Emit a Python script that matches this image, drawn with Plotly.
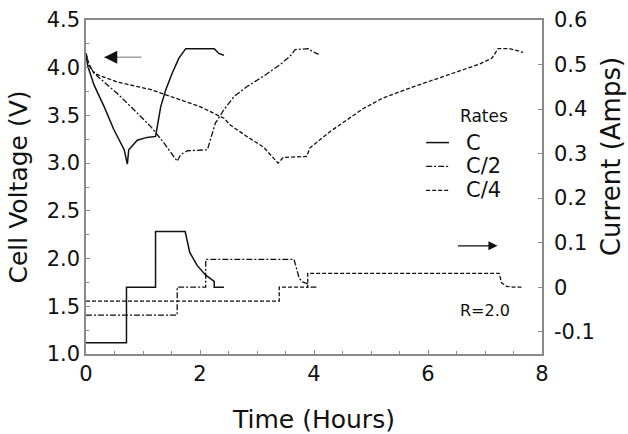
import plotly.graph_objects as go

# Cell voltage (V) during discharge / rest / charge at three rates
t_v_c = [0, 0.03, 0.08, 0.14, 0.32, 0.49, 0.67, 0.725, 0.75, 0.9, 1.07, 1.22,
         1.25, 1.31, 1.40, 1.51, 1.63, 1.75, 2.25, 2.33, 2.42]
v_c = [4.15, 4.02, 3.93, 3.82, 3.59, 3.35, 3.14, 2.99, 3.14, 3.24, 3.27, 3.28,
       3.38, 3.59, 3.77, 3.94, 4.10, 4.20, 4.20, 4.15, 4.13]

t_v_c2 = [0, 0.05, 0.2, 0.55, 0.84, 1.14, 1.37, 1.51, 1.60, 1.66, 1.78, 2.13,
          2.19, 2.27, 2.42, 2.60, 2.82, 3.11, 3.40, 3.58, 3.67, 3.90, 3.97, 4.08]
v_c2 = [4.15, 4.02, 3.91, 3.73, 3.56, 3.38, 3.21, 3.09, 3.02, 3.09, 3.13, 3.14,
        3.26, 3.42, 3.56, 3.70, 3.80, 3.91, 4.03, 4.12, 4.19, 4.20, 4.17, 4.14]

t_v_c4 = [0, 0.05, 0.14, 0.55, 1.14, 1.43, 2.01, 2.42, 2.53, 2.82, 3.11, 3.37,
          3.46, 3.87, 3.93, 4.28, 4.57, 4.86, 5.20, 5.74, 6.33, 6.91, 7.12, 7.23,
          7.42, 7.50, 7.67]
v_c4 = [4.15, 4.04, 3.94, 3.85, 3.77, 3.71, 3.59, 3.47, 3.40, 3.28, 3.17, 3.00,
        3.06, 3.07, 3.16, 3.33, 3.45, 3.57, 3.68, 3.80, 3.92, 4.04, 4.10, 4.20,
        4.20, 4.19, 4.16]

# Applied current (A)
t_i_c = [0, 0.71, 0.71, 1.22, 1.22, 1.74, 1.82, 1.95, 2.10, 2.25, 2.25, 2.42]
i_c = [-0.125, -0.125, 0, 0, 0.125, 0.125, 0.078, 0.049, 0.027, 0.013, 0, 0]

t_i_c2 = [0, 1.60, 1.60, 2.10, 2.10, 3.65, 3.74, 3.80, 3.88, 3.88, 4.07]
i_c2 = [-0.0625, -0.0625, 0, 0, 0.0625, 0.0625, 0.02, 0.012, 0.008, 0, 0]

t_i_c4 = [0, 3.39, 3.39, 3.89, 3.89, 7.25, 7.29, 7.38, 7.50, 7.66]
i_c4 = [-0.03125, -0.03125, 0, 0, 0.03125, 0.03125, 0.01, 0.002, 0, 0]

rates = ["C", "C/2", "C/4"]
dashes = ["solid", "6px,2px,2px,2px", "4px,2px"]
widths = [1.5, 1.3, 1.3]

FONT = "DejaVu Sans"
INK = "#111111"
FRAME = "#8a8a8a"

fig = go.Figure()

voltage = [(t_v_c, v_c), (t_v_c2, v_c2), (t_v_c4, v_c4)]
current = [(t_i_c, i_c), (t_i_c2, i_c2), (t_i_c4, i_c4)]

for k, name in enumerate(rates):
    tv, vv = voltage[k]
    fig.add_trace(go.Scatter(x=tv, y=vv, mode="lines", name=name, showlegend=False,
                             line=dict(color=INK, width=widths[k], dash=dashes[k])))
    ti, ii = current[k]
    fig.add_trace(go.Scatter(x=ti, y=ii, mode="lines", name=name, showlegend=False,
                             yaxis="y2",
                             line=dict(color=INK, width=widths[k], dash=dashes[k])))

# Hand-drawn key: "Rates" header with line samples
key_y = [0.633, 0.562, 0.49]
for k, name in enumerate(rates):
    fig.add_shape(type="line", xref="paper", yref="paper",
                  x0=0.746, x1=0.796, y0=key_y[k], y1=key_y[k],
                  line=dict(color=INK, width=widths[k], dash=dashes[k]))
    fig.add_annotation(xref="paper", yref="paper", x=0.83, y=key_y[k],
                       text=name, showarrow=False, xanchor="left", yanchor="middle",
                       font=dict(family=FONT, size=21, color=INK))
fig.add_annotation(xref="paper", yref="paper", x=0.872, y=0.713, text="Rates",
                   showarrow=False, xanchor="center", yanchor="middle",
                   font=dict(family=FONT, size=17, color=INK))

fig.add_annotation(xref="paper", yref="paper", x=0.876, y=0.13, text="R=2.0",
                   showarrow=False, xanchor="center", yanchor="middle",
                   font=dict(family=FONT, size=16, color=INK))

# Arrows pointing to the axis each family of curves belongs to
fig.add_annotation(x=0.32, y=4.11, ax=1.0, ay=4.11, xref="x", yref="y",
                   axref="x", ayref="y", text="", showarrow=True,
                   arrowhead=0, arrowwidth=1.5, arrowcolor="#a0a0a0")
fig.add_annotation(x=0.32, y=4.11, ax=0.5, ay=4.11, xref="x", yref="y",
                   axref="x", ayref="y", text="", showarrow=True,
                   arrowhead=2, arrowsize=1.3, arrowwidth=2, arrowcolor=INK)
fig.add_annotation(x=7.22, y=0.093, ax=6.5, ay=0.093, xref="x", yref="y2",
                   axref="x", ayref="y2", text="", showarrow=True,
                   arrowhead=2, arrowsize=1.4, arrowwidth=1.3, arrowcolor=INK)

# Right-hand axis title
fig.add_annotation(xref="paper", yref="paper", x=1.152, y=0.59,
                   text="Current (Amps)", textangle=-90, showarrow=False,
                   xanchor="center", yanchor="middle",
                   font=dict(family=FONT, size=26, color=INK))

fig.update_layout(
    width=628, height=434,
    margin=dict(l=86, r=86, t=20, b=80, autoexpand=False),
    paper_bgcolor="white", plot_bgcolor="white",
    font=dict(family=FONT, color=INK),
    xaxis=dict(range=[0, 8], tickvals=[0, 2, 4, 6, 8], ticktext=["0", "2", "4", "6", "8"],
               showline=True, linecolor=FRAME, linewidth=1.5, mirror=True,
               ticks="inside", ticklen=4, tickcolor=FRAME,
               minor=dict(dtick=0.5, ticks="inside", ticklen=3, tickcolor=FRAME),
               showgrid=False, zeroline=False, automargin=False,
               tickfont=dict(family=FONT, size=21, color=INK),
               title=dict(text="Time (Hours)", standoff=28,
                          font=dict(family=FONT, size=25, color=INK))),
    yaxis=dict(range=[1.0, 4.5], tickvals=[1.0, 1.5, 2.0, 2.5, 3.0, 3.5, 4.0, 4.5],
               ticktext=["1.0", "1.5", "2.0", "2.5", "3.0", "3.5", "4.0", "4.5"],
               showline=True, linecolor=FRAME, linewidth=1.5,
               ticks="inside", ticklen=4, tickcolor=FRAME,
               minor=dict(dtick=0.25, ticks="inside", ticklen=3, tickcolor=FRAME),
               showgrid=False, zeroline=False, automargin=False,
               tickfont=dict(family=FONT, size=21, color=INK),
               title=dict(text="Cell Voltage (V)", standoff=12,
                          font=dict(family=FONT, size=25, color=INK))),
    yaxis2=dict(range=[-0.15, 0.6], overlaying="y", side="right",
                tickvals=[-0.1, 0, 0.1, 0.2, 0.3, 0.4, 0.5, 0.6],
                ticktext=["-0.1", "0", "0.1", "0.2", "0.3", "0.4", "0.5", "0.6"],
                showline=True, linecolor=FRAME, linewidth=1.5,
                ticks="inside", ticklen=4, tickcolor=FRAME,
                showgrid=False, zeroline=False, ticklabelstandoff=6, automargin=False,
                tickfont=dict(family=FONT, size=21, color=INK)),
)

fig.write_html("out.html")
